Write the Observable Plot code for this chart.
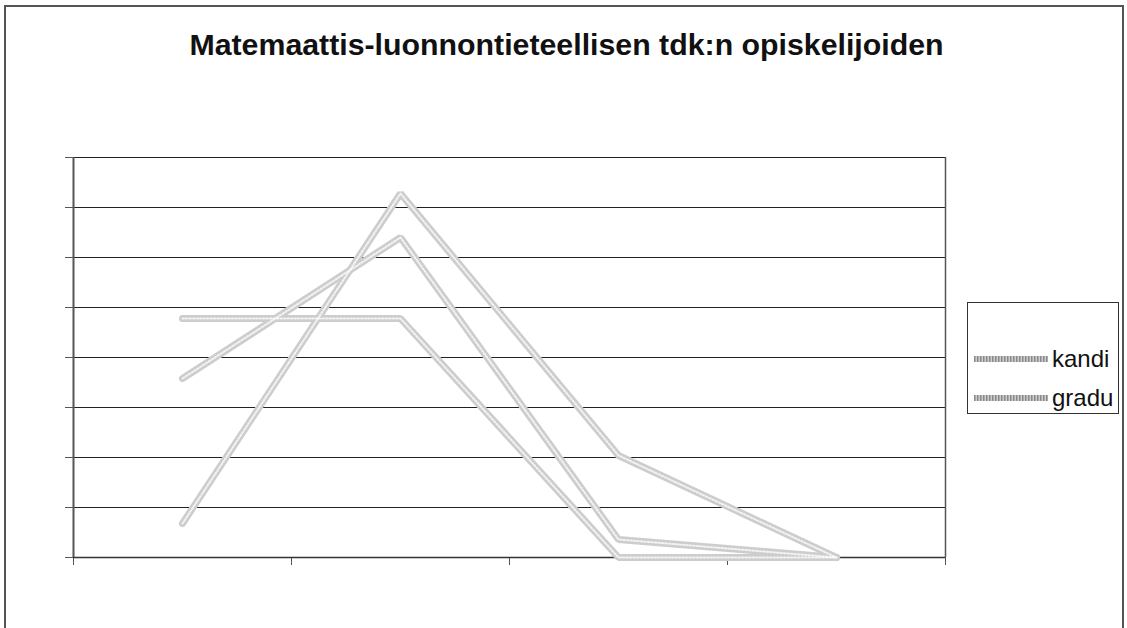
<!DOCTYPE html>
<html>
<head>
<meta charset="utf-8">
<script src="https://cdn.jsdelivr.net/npm/d3@7"></script>
<script src="https://cdn.jsdelivr.net/npm/@observablehq/plot@0.6"></script>
<style>
  html, body { margin: 0; padding: 0; background: #fff; }
  #wrap { position: relative; width: 1127px; height: 628px; overflow: hidden; font-family: "Liberation Sans", Arial, sans-serif; }
  #frame { position: absolute; left: 4px; top: 5px; width: 1120px; height: 640px; border: 2px solid #555; box-sizing: border-box; pointer-events: none; }
  #title { position: absolute; left: 3px; width: 1127px; top: 27px; text-align: center; font-weight: bold; font-size: 30.3px; line-height: 36px; color: #111; white-space: nowrap; }
  #legend { position: absolute; left: 967px; top: 302px; width: 152px; height: 112px; border: 1px solid #333; box-sizing: border-box; background: #fff; }
  .item { position: absolute; left: 6px; height: 26px; display: flex; align-items: center; font-size: 24px; line-height: 26px; color: #111; white-space: nowrap; }
  .item svg { margin-right: 4px; }
  #chart { position: absolute; left: 0; top: 0; }
</style>
</head>
<body>
<div id="wrap">
  <div id="chart"></div>
  <div id="frame"></div>
  <div id="title"></div>
  <div id="legend"></div>
</div>
<script>
// ---- data ----
const title = "Matemaattis-luonnontieteellisen tdk:n opiskelijoiden";
const categories = [1, 2, 3, 4];            // x categories (unlabelled in the original)
const seriesNames = ["", "kandi", "gradu"]; // first series has no legend text
const series0 = [3.4, 36.4, 10.2, 0];
const kandi   = [17.9, 32.0, 1.8, 0];
const gradu   = [23.9, 23.9, 0, 0];
const yTicks = [0, 5, 10, 15, 20, 25, 30, 35, 40];
const xTicks = [0, 1, 2, 3, 4];

const values = [series0, kandi, gradu];
const rows = [];
values.forEach((vals, s) => vals.forEach((v, i) => rows.push({series: s, name: seriesNames[s], x: i + 0.5, y: v})));

const lineColor = "#cdcdcd";

const chart = Plot.plot({
  width: 1127,
  height: 628,
  marginLeft: 73,
  marginRight: 182,
  marginTop: 157,
  marginBottom: 71,
  x: {domain: [0, categories.length], label: null},
  y: {domain: [0, 40], label: null},
  marks: [
    Plot.gridY(yTicks, {stroke: "#222", strokeOpacity: 1, strokeWidth: 1}),
    Plot.ruleX([categories.length], {stroke: "#555", strokeWidth: 1.5}),
    Plot.axisY(yTicks, {tickSize: 8, tickFormat: () => "", stroke: "#555", label: null}),
    Plot.axisX(xTicks, {tickSize: 8, tickFormat: () => "", stroke: "#555", label: null}),
    Plot.ruleX([0], {stroke: "#555", strokeWidth: 2}),
    Plot.ruleY([0], {stroke: "#333", strokeWidth: 1.5}),
    Plot.line(rows, {x: "x", y: "y", z: "series", stroke: lineColor, strokeWidth: 7, strokeLinejoin: "miter"}),
    Plot.line(rows, {x: "x", y: "y", z: "series", stroke: "#fff", strokeWidth: 2, strokeDasharray: "1.5,2", strokeOpacity: 0.75})
  ]
});
document.getElementById("chart").appendChild(chart);
document.getElementById("title").textContent = title;

// legend
const legend = document.getElementById("legend");
const legendTops = [4, 43, 82];
seriesNames.forEach((name, i) => {
  if (i === 0) return;
  const item = document.createElement("div");
  item.className = "item";
  item.style.top = legendTops[i] + "px";
  item.innerHTML = `<svg width="74" height="10"><line x1="0" x2="74" y1="5" y2="5" stroke="${lineColor}" stroke-width="6"/><line x1="0" x2="74" y1="5" y2="5" stroke="#666" stroke-width="6" stroke-dasharray="1.5,1.5" stroke-opacity="0.65"/></svg>`;
  const span = document.createElement("span");
  span.textContent = name;
  item.appendChild(span);
  legend.appendChild(item);
});
</script>
</body>
</html>
